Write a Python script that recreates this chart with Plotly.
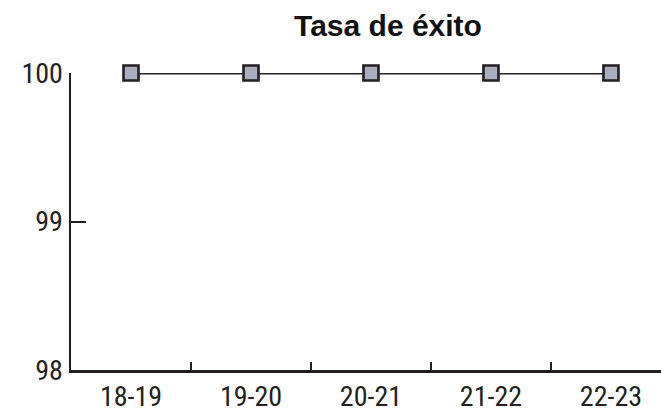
import plotly.graph_objects as go

categories = ["18-19", "19-20", "20-21", "21-22", "22-23"]
values = [100, 100, 100, 100, 100]
y_ticks = [98, 99, 100]

FONT = "Liberation Sans Narrow, Roboto Condensed, Liberation Sans, Arial"
INK = "#231f20"

fig = go.Figure()
fig.add_trace(go.Scatter(
    x=list(range(len(categories))), y=values, mode="lines+markers",
    line=dict(color=INK, width=3),
    marker=dict(symbol="square", size=15, color="#a9afc1",
                line=dict(color=INK, width=2.6)),
    cliponaxis=False, showlegend=False, hoverinfo="skip",
))

fig.update_layout(
    width=661, height=413,
    margin=dict(l=71, r=0, t=73, b=43, autoexpand=False),
    paper_bgcolor="white", plot_bgcolor="white",
    hovermode=False,
    title=dict(text="<b>Tasa de éxito</b>", x=388 / 661, xanchor="center",
               y=1 - 25 / 413, yanchor="middle", automargin=False,
               font=dict(family="Liberation Sans, Arial", size=30, color="#111111")),
    xaxis=dict(
        range=[-0.5, 4.417], tickmode="array", automargin=False,
        tickvals=list(range(len(categories))), ticktext=categories,
        showgrid=False, zeroline=False, showline=True, linecolor=INK, linewidth=2.5,
        ticks="", tickfont=dict(family=FONT, size=28, color=INK),
        ticklabelstandoff=0,
    ),
    xaxis2=dict(
        overlaying="x", range=[-0.5, 4.417], tickmode="array", automargin=False,
        tickvals=[0.5, 1.5, 2.5, 3.5], showticklabels=False, showgrid=False,
        zeroline=False, showline=False, ticks="inside", ticklen=8, tickwidth=2,
        tickcolor=INK, side="bottom", anchor="y",
    ),
    yaxis=dict(
        range=[98, 100], tickmode="array", tickvals=y_ticks, automargin=False,
        showgrid=False, zeroline=False, showline=True, linecolor=INK, linewidth=2.5,
        ticks="inside", ticklen=15, tickwidth=2, tickcolor=INK,
        tickfont=dict(family=FONT, size=28, color=INK),
        ticklabelstandoff=0,
    ),
)
# invisible trace to activate xaxis2 ticks
fig.add_trace(go.Scatter(x=[0], y=[98], xaxis="x2", mode="markers",
                         marker=dict(opacity=0), showlegend=False, hoverinfo="skip"))

fig.write_html("out.html", config={"displayModeBar": False, "staticPlot": True},
               post_script="document.body.style.margin='0';document.body.style.padding='0';")
